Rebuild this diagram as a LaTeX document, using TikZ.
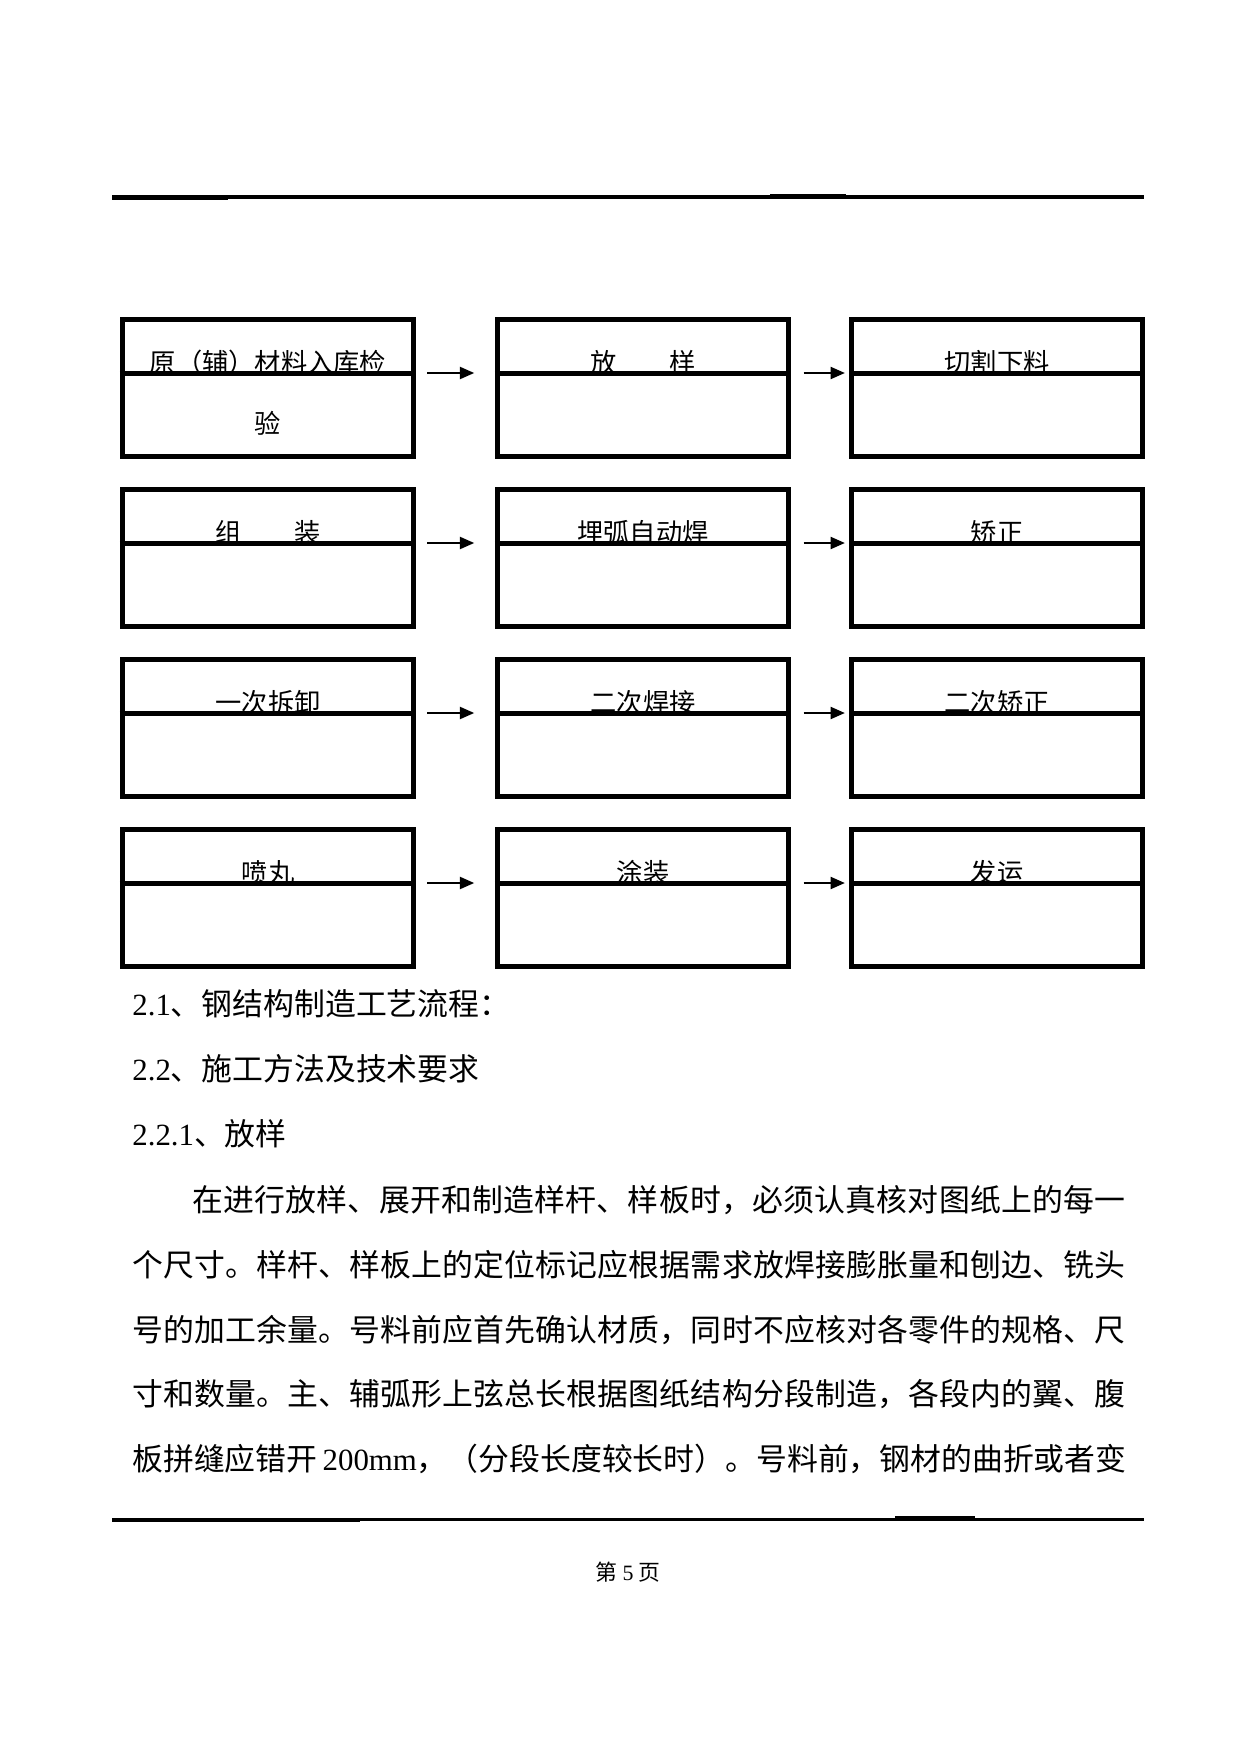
\documentclass[tikz,border=0pt]{standalone}
\usepackage{fontspec}
\setmainfont{Liberation Serif}
\newfontfamily\cjk{Noto Sans CJK SC}
\usetikzlibrary{arrows.meta}
\newdimen\PX \PX=0.4797pt
\makeatletter
\def\jspread#1{\jsp@#1\@nil}
\def\jsp@#1#2\@nil{#1\ifx\relax#2\relax\else\hfil\jsp@#2\@nil\fi}
\makeatother
\tikzset{
  box/.style={draw, line width=2.4pt, minimum width=139.6pt, minimum height=65.7pt, inner sep=0pt},
  divider/.style={line width=2.4pt},
  title/.style={inner sep=0pt, font=\cjk\fontsize{12.6}{14}\selectfont},
  ptext/.style={inner sep=0pt, anchor=base west, font=\fontsize{14.8}{18}\selectfont},
  arr/.style={line width=0.8pt, -{Triangle[length=6.8pt,width=5.8pt]}},
  rule/.style={line width=1.45pt},
}
\newcommand\mkbox[4]{%
  \node[box] (#1) at (#2,#3) {};
  \coordinate (#1d) at (#2,#3-15);
  \coordinate (#1b) at (#2,#3-16);
  \draw[divider] (#1.west |- #1d) -- (#1.east |- #1d);
  \node[title, anchor=base] (#1t) at (#1b) {#4};
}
\begin{document}
\begin{tikzpicture}[x=\PX, y=-\PX]
\fill[white] (0,0) rectangle (1241,1754);
\useasboundingbox (0,0) rectangle (1241,1754);

% header rule
\coordinate (hA) at (112,197);
\coordinate (hB) at (1144,197);
\draw[rule] (hA) -- (hB);
\coordinate (hC) at (112,198.5);
\coordinate (hD) at (228,198.5);
\draw[rule] (hC) -- (hD);
\coordinate (hE) at (770,195.8);
\coordinate (hF) at (846,195.8);
\draw[rule] (hE) -- (hF);

% boxes
\mkbox{b11}{268}{388}{原（辅）材料入库检}
\node[title, anchor=base] (b11s) at (268,433) {验};
\mkbox{b12}{643}{388}{放　　样}
\mkbox{b13}{997}{388}{切割下料}

\mkbox{b21}{268}{558}{组　　装}
\mkbox{b22}{643}{558}{埋弧自动焊}
\mkbox{b23}{997}{558}{矫正}

\mkbox{b31}{268}{728}{一次拆卸}
\mkbox{b32}{643}{728}{二次焊接}
\mkbox{b33}{997}{728}{二次矫正}

\mkbox{b41}{268}{898}{喷丸}
\mkbox{b42}{643}{898}{涂装}
\mkbox{b43}{997}{898}{发运}

% arrows
\foreach \r in {1,2,3,4}{
  \draw[arr, shorten <=5.5pt, shorten >=10pt] (b\r1.east |- b\r1d) -- (b\r2.west |- b\r1d);
  \draw[arr, shorten <=6pt, shorten >=2pt] (b\r2.east |- b\r2d) -- (b\r3.west |- b\r2d);
}

% page text
\node[ptext] (h1) at (132,1015) {2.1{\cjk 、钢结构制造工艺流程：}};
\node[ptext] (h2) at (132,1080) {2.2{\cjk 、施工方法及技术要求}};
\node[ptext] (h3) at (132,1145) {2.2.1{\cjk 、放样}};
\node[ptext] (p1) at (192,1211) {\hbox to 447.6pt{\cjk\jspread{在进行放样、展开和制造样杆、样板时，必须认真核对图纸上的每一}}};
\node[ptext] (p2) at (132,1276) {\hbox to 476.3pt{\cjk\jspread{个尺寸。样杆、样板上的定位标记应根据需求放焊接膨胀量和刨边、铣头}}};
\node[ptext] (p3) at (132,1341) {\hbox to 476.3pt{\cjk\jspread{号的加工余量。号料前应首先确认材质，同时不应核对各零件的规格、尺}}};
\node[ptext] (p4) at (132,1405) {\hbox to 476.3pt{\cjk\jspread{寸和数量。主、辅弧形上弦总长根据图纸结构分段制造，各段内的翼、腹}}};
\node[ptext] (p5) at (132,1470) {\hbox to 476.3pt{{\cjk\jspread{板拼缝应错开}}\hfil\ 200mm{\cjk\jspread{，（分段长度较长时）。号料前，钢材的曲折或者变}}}};

% footer rule
\coordinate (fA) at (112,1519);
\coordinate (fB) at (1144,1519);
\draw[rule] (fA) -- (fB);
\coordinate (fC) at (112,1520.5);
\coordinate (fD) at (360,1520.5);
\draw[rule] (fC) -- (fD);
\coordinate (fE) at (895,1517.8);
\coordinate (fF) at (975,1517.8);
\draw[rule] (fE) -- (fF);

\node[inner sep=0pt, anchor=base, font=\fontsize{10.5}{12}\selectfont] (pg) at (628,1580) {{\cjk 第} 5 {\cjk 页}};
\end{tikzpicture}
\end{document}
